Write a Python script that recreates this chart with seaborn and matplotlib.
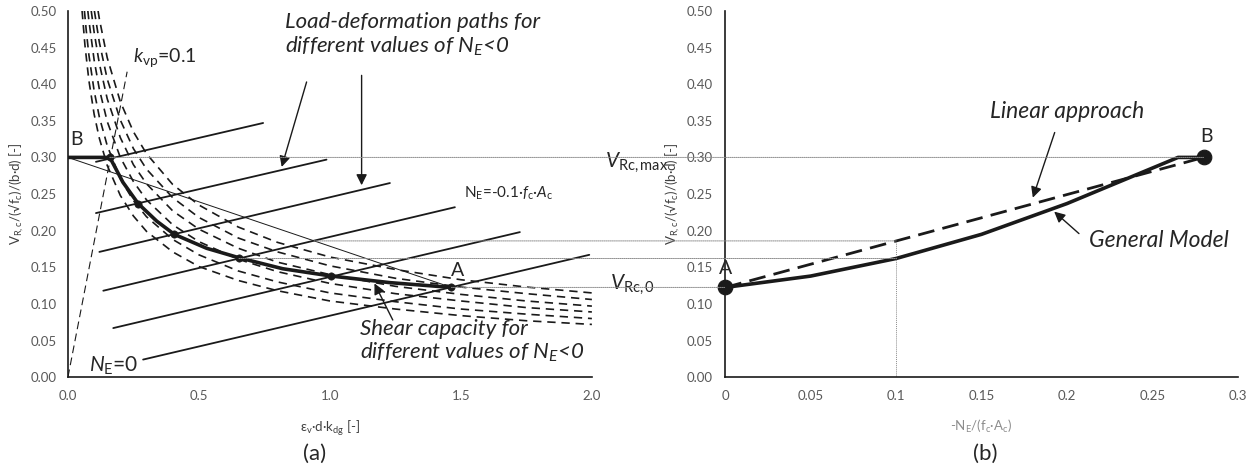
import numpy as np
import pandas as pd
import matplotlib
matplotlib.use("Agg")
import matplotlib.pyplot as plt
from matplotlib.patches import ConnectionPatch
import seaborn as sns

sns.set_theme(style="white")
plt.rcParams['font.family'] = ['Lato', 'DejaVu Sans']
plt.rcParams['mathtext.fontset'] = 'custom'
plt.rcParams['mathtext.rm'] = 'Lato'
plt.rcParams['mathtext.it'] = 'Lato:italic'
plt.rcParams['mathtext.bf'] = 'Lato:bold'

# ---------------- (a) deformation diagram ----------------
# failure criteria (dashed), one per axial load level
crit_x = [
    [0.054, 0.065, 0.08, 0.10, 0.12, 0.15, 0.20, 0.25, 0.30, 0.40, 0.50, 0.65, 0.80, 1.00, 1.25, 1.50, 1.75, 2.00],
    [0.063, 0.07, 0.08, 0.10, 0.12, 0.15, 0.20, 0.25, 0.30, 0.40, 0.50, 0.65, 0.80, 1.00, 1.25, 1.50, 1.75, 2.00],
    [0.076, 0.08, 0.10, 0.12, 0.15, 0.20, 0.25, 0.30, 0.40, 0.50, 0.65, 0.80, 1.00, 1.25, 1.50, 1.75, 2.00],
    [0.089, 0.10, 0.12, 0.15, 0.20, 0.25, 0.30, 0.40, 0.50, 0.65, 0.80, 1.00, 1.25, 1.50, 1.75, 2.00],
    [0.101, 0.12, 0.15, 0.20, 0.25, 0.30, 0.40, 0.50, 0.65, 0.80, 1.00, 1.25, 1.50, 1.75, 2.00],
    [0.115, 0.12, 0.15, 0.20, 0.25, 0.30, 0.40, 0.50, 0.65, 0.80, 1.00, 1.25, 1.50, 1.75, 2.00],
]
crit_y = [
    [0.500, 0.453, 0.405, 0.359, 0.326, 0.289, 0.248, 0.220, 0.199, 0.171, 0.151, 0.132, 0.118, 0.104, 0.093, 0.084, 0.077, 0.072],
    [0.500, 0.473, 0.440, 0.391, 0.355, 0.316, 0.271, 0.241, 0.219, 0.188, 0.167, 0.145, 0.130, 0.115, 0.103, 0.093, 0.086, 0.080],
    [0.500, 0.487, 0.433, 0.393, 0.349, 0.300, 0.267, 0.242, 0.208, 0.185, 0.161, 0.144, 0.128, 0.114, 0.104, 0.095, 0.089],
    [0.500, 0.471, 0.428, 0.380, 0.327, 0.290, 0.264, 0.227, 0.202, 0.176, 0.157, 0.140, 0.124, 0.113, 0.104, 0.097],
    [0.500, 0.457, 0.407, 0.351, 0.312, 0.284, 0.245, 0.218, 0.190, 0.171, 0.152, 0.135, 0.123, 0.114, 0.106],
    [0.500, 0.489, 0.436, 0.376, 0.335, 0.305, 0.263, 0.235, 0.205, 0.184, 0.164, 0.147, 0.133, 0.123, 0.115],
]

# load-deformation paths (start and end of each straight path)
path_x0 = [0.287, 0.173, 0.135, 0.120, 0.107, 0.107]
path_y0 = [0.024, 0.067, 0.118, 0.171, 0.224, 0.294]
path_x1 = [1.990, 1.725, 1.477, 1.229, 0.987, 0.745]
path_y1 = [0.167, 0.198, 0.232, 0.265, 0.297, 0.347]

# shear capacity for increasing compression (thick curve)
cap_x = [0.0, 0.160, 0.210, 0.268, 0.339, 0.406, 0.529, 0.653, 0.820, 1.006, 1.230, 1.464]
cap_y = [0.300, 0.300, 0.266, 0.237, 0.213, 0.195, 0.176, 0.163, 0.148, 0.138, 0.129, 0.1225]
cap_pts_x = [0.160, 0.268, 0.406, 0.653, 1.006, 1.464]
cap_pts_y = [0.300, 0.237, 0.195, 0.163, 0.138, 0.1225]

# k_vp = 0.1 ray from the origin
kvp_x = [0.0, 0.226]
kvp_y = [0.0, 0.417]

v_max = 0.30
v_0 = 0.1225
v_lin_01 = 0.186
v_gm_01 = 0.162

# ---------------- (b) capacity vs axial load ----------------
n_gm = [0.0, 0.05, 0.10, 0.15, 0.20, 0.265, 0.28]
v_gm = [0.1225, 0.138, 0.162, 0.195, 0.237, 0.300, 0.300]
n_lin = [0.0, 0.28]
v_lin = [0.1225, 0.300]

TICK_C = '#595959'
GRID_C = '#8c8c8c'

fig = plt.figure(figsize=(12.58, 4.75), dpi=100)
axA = fig.add_axes([0.054, 0.206, 0.4165, 0.771])
axB = fig.add_axes([0.5765, 0.206, 0.4075, 0.771])

# ---- panel (a)
for xs, ys in zip(crit_x, crit_y):
    sns.lineplot(x=xs, y=ys, ax=axA, color='k', linewidth=1.2,
                 linestyle=(0, (5, 3.5)), sort=False, estimator=None)
for x0, y0, x1, y1 in zip(path_x0, path_y0, path_x1, path_y1):
    sns.lineplot(x=[x0, x1], y=[y0, y1], ax=axA, color='k', linewidth=1.3,
                 sort=False, estimator=None)
sns.lineplot(x=kvp_x, y=kvp_y, ax=axA, color='k', linewidth=0.8,
             linestyle=(0, (7, 4)), sort=False, estimator=None)
sns.lineplot(x=[cap_x[0], cap_pts_x[-1]], y=[cap_y[0], cap_pts_y[-1]], ax=axA,
             color='k', linewidth=0.7, sort=False, estimator=None)
sns.lineplot(x=cap_x, y=cap_y, ax=axA, color='k', linewidth=2.6,
             sort=False, estimator=None)
sns.scatterplot(x=cap_pts_x, y=cap_pts_y, ax=axA, color='k', s=28,
                edgecolor='k', zorder=5)

axA.set_xlim(0, 2.0)
axA.set_ylim(0, 0.5)
axA.set_xticks([0, 0.5, 1.0, 1.5, 2.0])
axA.set_xticklabels(['0.0', '0.5', '1.0', '1.5', '2.0'])
yt = [0.0, 0.05, 0.10, 0.15, 0.20, 0.25, 0.30, 0.35, 0.40, 0.45, 0.50]
axA.set_yticks(yt)
axA.set_yticklabels([f'{v:.2f}' for v in yt])
axA.tick_params(axis='x', direction='in', length=5, width=1, colors='k',
                labelcolor=TICK_C, labelsize=9.5, pad=9)
axA.tick_params(axis='y', direction='out', length=5, width=1, colors='k',
                labelcolor=TICK_C, labelsize=9.5, pad=3)
axA.set_xlabel('ε$_\\mathrm{v}$·d·k$_\\mathrm{dg}$ [-]', color='#404040',
               fontsize=9.5, labelpad=12)
axA.set_ylabel('V$_\\mathrm{R,c}$/(√f$_\\mathrm{c}$)/(b·d) [-]', color='#404040',
               fontsize=9.5, labelpad=3)

axA.text(0.01, 0.313, 'B', fontsize=14, ha='left', va='bottom')
axA.text(1.487, 0.146, 'A', fontsize=14, ha='center', va='center')
axA.text(0.368, 0.437, '$k_{\\mathrm{vp}}$=0.1', fontsize=14, ha='center', va='center')
axA.text(0.176, 0.016, '$N_{\\mathrm{E}}$=0', fontsize=15, ha='center', va='center')
axA.text(1.68, 0.251, 'N$_\\mathrm{E}$=-0.1·$f_\\mathrm{c}$·$A_\\mathrm{c}$',
         fontsize=11, ha='center', va='center')
axA.text(0.828, 0.499, 'Load-deformation paths for\ndifferent values of $N_E$<0',
         fontsize=16, style='italic', ha='left', va='top', linespacing=1.15)
axA.text(1.115, 0.079, 'Shear capacity for\ndifferent values of $N_E$<0',
         fontsize=16, style='italic', ha='left', va='top', linespacing=1.1)

arrow_kw = dict(arrowstyle='-|>', color='k', lw=1.0, mutation_scale=16,
                shrinkA=0, shrinkB=0)
axA.annotate('', xy=(0.816, 0.287), xytext=(0.911, 0.403), arrowprops=arrow_kw)
axA.annotate('', xy=(1.121, 0.262), xytext=(1.121, 0.412), arrowprops=arrow_kw)
axA.annotate('', xy=(1.170, 0.128), xytext=(1.240, 0.078), arrowprops=arrow_kw)

axA.text(2.05, 0.293, '$V_{\\mathrm{Rc,max}}$', fontsize=15, ha='left', va='center',
         clip_on=False, zorder=10,
         bbox=dict(facecolor='white', edgecolor='none', pad=0.5))
axA.text(2.07, 0.126, '$V_{\\mathrm{Rc,0}}$', fontsize=15, ha='left', va='center',
         clip_on=False, zorder=10,
         bbox=dict(facecolor='white', edgecolor='none', pad=0.5))

# ---- panel (b)
sns.lineplot(x=n_lin, y=v_lin, ax=axB, color='k', linewidth=2.0,
             linestyle=(0, (6, 3)), sort=False, estimator=None)
sns.lineplot(x=n_gm, y=v_gm, ax=axB, color='k', linewidth=2.6,
             sort=False, estimator=None)
sns.scatterplot(x=[n_lin[0], n_lin[-1]], y=[v_lin[0], v_lin[-1]], ax=axB,
                color='k', s=110, edgecolor='k', zorder=6, clip_on=False)
axB.plot([0.1, 0.1], [0, v_lin_01], linestyle=(0, (1, 1)), color=GRID_C, lw=0.7)

axB.set_xlim(0, 0.3)
axB.set_ylim(0, 0.5)
xtb = [0, 0.05, 0.10, 0.15, 0.20, 0.25, 0.30]
axB.set_xticks(xtb)
axB.set_xticklabels(['0', '0.05', '0.1', '0.15', '0.2', '0.25', '0.3'])
axB.set_yticks(yt)
axB.set_yticklabels([f'{v:.2f}' for v in yt])
axB.tick_params(axis='x', direction='in', length=5, width=1, colors='k',
                labelcolor=TICK_C, labelsize=9.5, pad=9)
axB.tick_params(axis='y', direction='in', length=5, width=1, colors='k',
                labelcolor=TICK_C, labelsize=9.5, pad=9)
axB.set_xlabel('-N$_\\mathrm{E}$/(f$_\\mathrm{c}$·A$_\\mathrm{c}$)', color='#8c8c8c',
               fontsize=9.5, labelpad=12)
axB.set_ylabel('V$_\\mathrm{R,c}$/(√f$_\\mathrm{c}$)/(b·d) [-]', color='#404040',
               fontsize=9.5, labelpad=3)

axB.text(0.0, 0.148, 'A', fontsize=14, ha='center', va='center')
axB.text(0.2815, 0.329, 'B', fontsize=14, ha='center', va='center')
axB.text(0.2003, 0.363, 'Linear approach', fontsize=16.5, style='italic',
         ha='center', va='center')
axB.text(0.2537, 0.186, 'General Model', fontsize=16.5, style='italic',
         ha='center', va='center')
axB.annotate('', xy=(0.180, 0.245), xytext=(0.1928, 0.334), arrowprops=arrow_kw)
axB.annotate('', xy=(0.1925, 0.226), xytext=(0.207, 0.196), arrowprops=arrow_kw)

for ax in (axA, axB):
    sns.despine(ax=ax)
    for side in ('left', 'bottom'):
        ax.spines[side].set_color('k')
        ax.spines[side].set_linewidth(1.2)

# reference levels linking both panels
links = [
    (cap_pts_x[0], v_max, n_lin[-1], v_max),
    (cap_pts_x[-1], v_0, 0.0, v_0),
    (0.94, v_lin_01, 0.1, v_lin_01),
    (cap_pts_x[3], v_gm_01, 0.1, v_gm_01),
]
for xa, ya, xb, yb in links:
    con = ConnectionPatch(xyA=(xa, ya), coordsA=axA.transData,
                          xyB=(xb, yb), coordsB=axB.transData,
                          linestyle=(0, (1, 1)), color=GRID_C, lw=0.7, zorder=1)
    fig.add_artist(con)

fig.text(0.2504, 0.045, '(a)', fontsize=16, ha='center', va='center')
fig.text(0.783, 0.045, '(b)', fontsize=16, ha='center', va='center')

fig.savefig('out.png', dpi=100)
